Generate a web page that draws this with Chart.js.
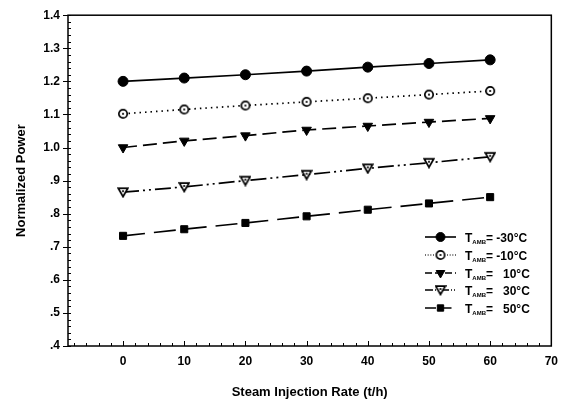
<!DOCTYPE html>
<html>
<head>
<meta charset="utf-8">
<script src="https://cdn.jsdelivr.net/npm/chart.js@4/dist/chart.umd.min.js"></script>
<style>
  html, body { margin: 0; padding: 0; background: #fff; }
  #wrap { width: 566px; height: 404px; position: relative; }
</style>
</head>
<body>
<div id="wrap"><canvas id="powerChart" width="566" height="404"></canvas></div>
<script>
// 数据：蒸汽喷射量 (t/h) 与各环境温度下的归一化功率
const injectionRate = [0, 10, 20, 30, 40, 50, 60];
const powerM30 = [1.200, 1.210, 1.220, 1.231, 1.243, 1.254, 1.265];
const powerM10 = [1.102, 1.115, 1.127, 1.138, 1.149, 1.160, 1.171];
const power10  = [1.000, 1.020, 1.036, 1.053, 1.065, 1.077, 1.088];
const power30  = [0.865, 0.881, 0.900, 0.918, 0.937, 0.954, 0.972];
const power50  = [0.733, 0.753, 0.772, 0.792, 0.812, 0.831, 0.850];
const seriesTemps = ['-30°C', '-10°C', '10°C', '30°C', '50°C'];
const yTickLabels = ['.4', '.5', '.6', '.7', '.8', '.9', '1.0', '1.1', '1.2', '1.3', '1.4'];

const FONT = '"Liberation Sans", Arial, sans-serif';

// 自定义标记：带中心点的空心圆 / 空心倒三角
function makeMarker(kind) {
    const c = document.createElement('canvas');
    c.width = 12; c.height = 12;
    const g = c.getContext('2d');
    g.strokeStyle = '#000'; g.fillStyle = '#fff'; g.lineWidth = 1.7;
    if (kind === 'circle') {
        g.beginPath(); g.arc(6, 6, 4.2, 0, Math.PI * 2); g.fill(); g.stroke();
    } else {
        g.beginPath(); g.moveTo(1.3, 2.2); g.lineTo(10.7, 2.2); g.lineTo(6, 10.5); g.closePath(); g.fill(); g.stroke();
    }
    g.fillStyle = '#000';
    g.beginPath(); g.arc(6, kind === 'circle' ? 6 : 5, 1.1, 0, Math.PI * 2); g.fill();
    return c;
}
const circleDot = makeMarker('circle');
const triDot = makeMarker('tri');

const styles = [
    { dash: [], pointStyle: 'circle', radius: 5, rotation: 0, fill: '#000' },
    { dash: [1.5, 4], pointStyle: circleDot, radius: 5, rotation: 0, fill: '#fff' },
    { dash: [14, 6], pointStyle: 'triangle', radius: 5.5, rotation: 180, fill: '#000' },
    { dash: [16, 4, 2, 4, 2, 4], pointStyle: triDot, radius: 5, rotation: 0, fill: '#fff' },
    { dash: [22, 9], pointStyle: 'rect', radius: 5, rotation: 0, fill: '#000' }
];
const seriesValues = [powerM30, powerM10, power10, power30, power50];

const datasets = seriesValues.map((vals, i) => ({
    label: 'T_AMB= ' + seriesTemps[i],
    data: injectionRate.map((x, j) => ({ x: x, y: vals[j] })),
    borderColor: '#000',
    backgroundColor: styles[i].fill,
    borderWidth: 1.7,
    borderDash: styles[i].dash,
    pointStyle: styles[i].pointStyle,
    pointRadius: styles[i].radius,
    pointRotation: styles[i].rotation,
    pointBorderColor: '#000',
    pointBackgroundColor: styles[i].fill,
    pointBorderWidth: 1,
    tension: 0
}));

// 边框、刻度、图例都手工画
const framePlugin = {
    id: 'frame',
    afterDraw(chart) {
        const ctx = chart.ctx;
        const a = chart.chartArea;
        const xs = chart.scales.x, ys = chart.scales.y;
        ctx.save();
        ctx.strokeStyle = '#000';
        ctx.lineWidth = 1.5;
        ctx.setLineDash([]);
        ctx.strokeRect(a.left, a.top, a.right - a.left, a.bottom - a.top);
        ctx.lineWidth = 1;
        // x 刻度
        for (let v = -8; v <= 70; v += 2) {
            const px = Math.round(xs.getPixelForValue(v)) + 0.5;
            const len = v % 10 === 0 ? 5 : 3;
            ctx.beginPath(); ctx.moveTo(px, a.bottom); ctx.lineTo(px, a.bottom - len); ctx.stroke();
        }
        // y 刻度
        for (let k = 0; k <= 50; k++) {
            const v = 0.4 + k * 0.02;
            const py = Math.round(ys.getPixelForValue(v)) + 0.5;
            const major = k % 5 === 0;
            ctx.beginPath();
            ctx.moveTo(a.left - (major ? 5 : 0), py);
            ctx.lineTo(a.left + 3, py);
            ctx.stroke();
        }
        // 图例
        const lx0 = 425, lx1 = 456, tx = 465;
        const rowsY = [237, 255, 273, 290, 308];
        chart.data.datasets.forEach((ds, i) => {
            const y = rowsY[i];
            ctx.lineWidth = 1.6;
            ctx.setLineDash(styles[i].dash.length ? styles[i].dash.map(d => d * 0.5) : []);
            ctx.beginPath(); ctx.moveTo(lx0, y); ctx.lineTo(lx1, y); ctx.stroke();
            ctx.setLineDash([]);
            ctx.fillStyle = styles[i].fill;
            ctx.lineWidth = 1;
            Chart.helpers.drawPoint(ctx, {
                pointStyle: styles[i].pointStyle,
                rotation: styles[i].rotation,
                radius: styles[i].radius - 0.5,
                borderWidth: 1
            }, (lx0 + lx1) / 2, y);
            ctx.fillStyle = '#000';
            ctx.textBaseline = 'alphabetic';
            ctx.textAlign = 'left';
            ctx.font = 'bold 12px ' + FONT;
            ctx.fillText('T', tx, y + 5);
            const tw = ctx.measureText('T').width;
            ctx.font = 'bold 6px ' + FONT;
            ctx.fillText('AMB', tx + tw, y + 7);
            const sw = ctx.measureText('AMB').width;
            ctx.font = 'bold 12px ' + FONT;
            const temp = seriesTemps[i].startsWith('-') ? seriesTemps[i] : '  ' + seriesTemps[i];
            ctx.fillText('= ' + temp, tx + tw + sw, y + 5);
        });
        ctx.restore();
    }
};

new Chart(document.getElementById('powerChart'), {
    type: 'line',
    data: { datasets: datasets },
    options: {
        responsive: false,
        animation: false,
        layout: { padding: { left: 14, right: 7, top: 15, bottom: 0 } },
        plugins: { legend: { display: false }, tooltip: { enabled: false } },
        scales: {
            x: {
                type: 'linear',
                min: -9, max: 70,
                afterFit(s) { s.height = 58; },
                afterBuildTicks(s) { s.ticks = [0, 10, 20, 30, 40, 50, 60, 70].map(v => ({ value: v })); },
                grid: { display: false, drawTicks: false },
                border: { display: false },
                ticks: { color: '#000', padding: 8, maxRotation: 0, font: { family: FONT, size: 12, weight: 'bold' } },
                title: { display: true, text: 'Steam Injection Rate (t/h)', color: '#000', padding: { top: 14 },
                         font: { family: FONT, size: 13, weight: 'bold' } }
            },
            y: {
                min: 0.4, max: 1.4,
                afterFit(s) { s.width = 54; },
                afterBuildTicks(s) { s.ticks = yTickLabels.map((t, i) => ({ value: 0.4 + i * 0.1 })); },
                grid: { display: false, drawTicks: false },
                border: { display: false },
                ticks: {
                    color: '#000', padding: 8,
                    font: { family: FONT, size: 12, weight: 'bold' },
                    callback: (v, i) => yTickLabels[i]
                },
                title: { display: true, text: 'Normalized Power', color: '#000', padding: { top: 0, bottom: 6 },
                         font: { family: FONT, size: 13, weight: 'bold' } }
            }
        }
    },
    plugins: [framePlugin]
});
</script>
</body>
</html>
